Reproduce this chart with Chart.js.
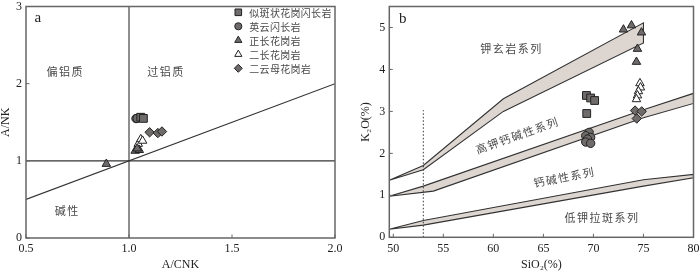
<!DOCTYPE html>
<html>
<head>
<meta charset="utf-8">
<script src="https://cdn.jsdelivr.net/npm/chart.js@4/dist/chart.umd.min.js"></script>
<style>
  body { margin: 0; background: #fff; }
  #wrap { position: relative; width: 700px; height: 271px; }
  canvas { position: absolute; top: 0; }
  #chartA { left: 0; }
  #chartB { left: 340px; }
</style>
</head>
<body>
<div id="wrap">
  <canvas id="chartA" width="350" height="271"></canvas>
  <canvas id="chartB" width="360" height="271"></canvas>
</div>
<script>
// ---- data: panel a (A/NK vs A/CNK) ----
let rockNames = ['似斑状花岗闪长岩', '英云闪长岩', '正长花岗岩', '二长花岗岩', '二云母花岗岩'];

let aSquares   = [{x: 1.057, y: 1.565}, {x: 1.07, y: 1.55}];
let aCircles   = [{x: 1.034, y: 1.548}, {x: 1.04, y: 1.55}];
let aFilledTri = [{x: 1.03, y: 1.13}, {x: 1.05, y: 1.14}, {x: 1.04, y: 1.16}, {x: 0.89, y: 0.96}];
let aOpenTri   = [{x: 1.045, y: 1.22}, {x: 1.057, y: 1.28}, {x: 1.066, y: 1.26}];
let aDiamonds  = [{x: 1.10, y: 1.37}, {x: 1.14, y: 1.36}, {x: 1.16, y: 1.38}];

let aDiagonal   = [{x: 0.5, y: 0.5}, {x: 2.0, y: 2.0}];
let aVertical   = [{x: 1.0, y: 0}, {x: 1.0, y: 3}];
let aHorizontal = [{x: 0.5, y: 1}, {x: 2.0, y: 1}];

let aXTicks = [0.5, 1.0, 1.5, 2.0];
let aYTicks = [0, 1, 2, 3];

// ---- data: panel b (K2O vs SiO2) ----
let bSquares   = [{x: 69.3, y: 3.38}, {x: 69.72, y: 3.32}, {x: 70.12, y: 3.26}, {x: 69.33, y: 2.95}];
let bCircles   = [{x: 69.57, y: 2.5}, {x: 69.23, y: 2.42}, {x: 69.72, y: 2.38}, {x: 69.4, y: 2.34}, {x: 69.23, y: 2.27}, {x: 69.72, y: 2.24}];
let bFilledTri = [{x: 73.0, y: 4.95}, {x: 73.8, y: 5.05}, {x: 74.8, y: 4.88}, {x: 74.4, y: 4.49}, {x: 74.3, y: 4.18}];
let bOpenTri   = [{x: 74.65, y: 3.67}, {x: 74.7, y: 3.57}, {x: 74.5, y: 3.48}, {x: 74.4, y: 3.38}, {x: 74.3, y: 3.29}];
let bDiamonds  = [{x: 74.16, y: 3.02}, {x: 74.82, y: 3.0}, {x: 74.33, y: 2.83}];

// boundary bands: upper edge then lower edge back to start
let bandShoshonite = [
  {x: 49.6, y: 1.36}, {x: 53, y: 1.71}, {x: 61, y: 3.30}, {x: 75, y: 5.11},
  {x: 75, y: 4.63}, {x: 61, y: 3.0}, {x: 53, y: 1.61}, {x: 49.6, y: 1.36}
];
let bandHighK = [
  {x: 49.6, y: 0.98}, {x: 53, y: 1.22}, {x: 75, y: 3.04}, {x: 80, y: 3.43},
  {x: 80, y: 3.19}, {x: 75, y: 2.85}, {x: 54, y: 1.10}, {x: 49.6, y: 0.98}
];
let bandCalcAlk = [
  {x: 49.6, y: 0.19}, {x: 53, y: 0.40}, {x: 75, y: 1.37}, {x: 80, y: 1.50},
  {x: 80, y: 1.42}, {x: 75, y: 1.22}, {x: 53, y: 0.29}, {x: 49.6, y: 0.19}
];
let bDotted = [{x: 53, y: 0}, {x: 53, y: 3.03}];

let bXTicks = [50, 55, 60, 65, 70, 75, 80];
let bYTicks = [0, 1, 2, 3, 4, 5];

// ---- styles ----
const markFill = '#6f6b6b';
const markEdge = '#222';
const tickFont = {family: 'Liberation Serif', size: 12};
const cjk = '"Noto Sans CJK SC"';

function rockSets(sq, ci, ft, ot, di) {
  const base = {type: 'scatter', borderColor: markEdge, borderWidth: 1, backgroundColor: markFill, order: 0, legend: true};
  return [
    {...base, label: rockNames[0], data: sq, pointStyle: 'rect', pointRadius: 5.5},
    {...base, label: rockNames[1], data: ci, pointStyle: 'circle', pointRadius: 4.2},
    {...base, label: rockNames[2], data: ft, pointStyle: 'triangle', pointRadius: 4.9},
    {...base, label: rockNames[3], data: ot, pointStyle: 'triangle', pointRadius: 4.9, backgroundColor: '#fff'},
    {...base, label: rockNames[4], data: di, pointStyle: 'rectRot', pointRadius: 4.7}
  ];
}

function lineSet(data, extra) {
  return Object.assign({type: 'line', data: data, borderColor: '#333', borderWidth: 1.1,
    pointRadius: 0, fill: false, tension: 0, order: 5}, extra || {});
}

function scaleOpts(min, max, tickList, title, fit) {
  return {
    type: 'linear', min: min, max: max,
    afterBuildTicks: s => { s.ticks = tickList.map(v => ({value: v})); },
    ticks: {font: tickFont, color: '#222', padding: 4, maxRotation: 0, autoSkip: false,
      callback: fit.fmt},
    grid: {display: false, drawTicks: false},
    border: {display: false},
    title: {display: true, text: title, color: '#222', font: {family: 'Liberation Serif', size: 12}, padding: fit.titlePad},
    afterFit: s => {
      if (s.isHorizontal()) { s.height = fit.size; s.paddingLeft = 0; s.paddingRight = 0; }
      else { s.width = fit.size; s.paddingTop = 0; s.paddingBottom = 0; }
    }
  };
}

// frame + inward ticks + text labels
const framePlugin = {
  id: 'frame',
  afterDraw(chart, args, opts) {
    const ctx = chart.ctx, a = chart.chartArea;
    const sx = chart.scales.x, sy = chart.scales.y;
    ctx.save();
    ctx.strokeStyle = '#666';
    ctx.lineWidth = 1.5;
    ctx.strokeRect(a.left, a.top, a.right - a.left, a.bottom - a.top);
    ctx.lineWidth = 1;
    ctx.beginPath();
    sx.ticks.forEach(t => {
      const px = sx.getPixelForValue(t.value);
      ctx.moveTo(px, a.bottom); ctx.lineTo(px, a.bottom - 3.5);
    });
    sy.ticks.forEach(t => {
      const py = sy.getPixelForValue(t.value);
      ctx.moveTo(a.left, py); ctx.lineTo(a.left + 3.5, py);
    });
    ctx.stroke();
    (opts.labels || []).forEach(l => {
      ctx.save();
      ctx.translate(sx.getPixelForValue(l.x), sy.getPixelForValue(l.y));
      ctx.rotate((l.angle || 0) * Math.PI / 180);
      ctx.font = l.font;
      ctx.fillStyle = l.color || '#4a4a4a';
      ctx.letterSpacing = l.spacing || '0px';
      ctx.textAlign = 'center';
      ctx.textBaseline = 'middle';
      ctx.fillText(l.text, 0, 0);
      ctx.restore();
    });
    ctx.restore();
  }
};

// legend drawn inside panel a
const legendPlugin = {
  id: 'rockLegend',
  afterDraw(chart, args, opts) {
    if (!opts.show) return;
    const ctx = chart.ctx;
    const sets = chart.data.datasets.filter(d => d.legend);
    ctx.save();
    sets.forEach((d, i) => {
      const y = opts.y + i * opts.step;
      ctx.fillStyle = d.backgroundColor;
      ctx.strokeStyle = d.borderColor;
      ctx.lineWidth = 1;
      Chart.helpers.drawPoint(ctx, {pointStyle: d.pointStyle, radius: d.pointRadius * 0.85, borderWidth: 1, rotation: 0}, opts.x, y);
      ctx.fillStyle = '#4a4a4a';
      ctx.font = '10px ' + cjk;
      ctx.letterSpacing = '0.3px';
      ctx.textAlign = 'left';
      ctx.textBaseline = 'middle';
      ctx.fillText(d.label, opts.x + 11, y + 0.5);
    });
    ctx.restore();
  }
};

Chart.register(framePlugin, legendPlugin);

new Chart(document.getElementById('chartA'), {
  type: 'scatter',
  data: {
    datasets: [
      ...rockSets(aSquares, aCircles, aFilledTri, aOpenTri, aDiamonds),
      lineSet(aDiagonal), lineSet(aVertical), lineSet(aHorizontal)
    ]
  },
  options: {
    responsive: false, animation: false,
    layout: {padding: {top: 1, right: 15, left: 0, bottom: 0}},
    scales: {
      x: scaleOpts(0.5, 2.0, aXTicks, 'A/CNK', {size: 33, fmt: v => v.toFixed(1), titlePad: {top: 0, bottom: -1}}),
      y: scaleOpts(0, 3, aYTicks, 'A/NK', {size: 26, fmt: v => v, titlePad: {top: -1, bottom: 0}})
    },
    plugins: {
      legend: {display: false}, tooltip: {enabled: false},
      frame: {labels: [
        {text: 'a', x: 0.558, y: 2.85, font: '15px "Liberation Serif"', color: '#222'},
        {text: '偏铝质', x: 0.69, y: 2.16, font: '11px ' + cjk, spacing: '1.5px'},
        {text: '过铝质', x: 1.18, y: 2.16, font: '11px ' + cjk, spacing: '1.5px'},
        {text: '碱性', x: 0.70, y: 0.35, font: '11px ' + cjk, spacing: '1.5px'}
      ]},
      rockLegend: {show: true, x: 238.3, y: 12.3, step: 14}
    }
  }
});

new Chart(document.getElementById('chartB'), {
  type: 'scatter',
  data: {
    datasets: [
      ...rockSets(bSquares, bCircles, bFilledTri, bOpenTri, bDiamonds),
      lineSet(bandShoshonite, {fill: 'shape', backgroundColor: '#ddd5d0', order: 8}),
      lineSet(bandHighK, {fill: 'shape', backgroundColor: '#ddd5d0', order: 8}),
      lineSet(bandCalcAlk, {fill: 'shape', backgroundColor: '#ddd5d0', order: 8}),
      lineSet(bDotted, {borderDash: [1.5, 2], borderWidth: 1, order: 6})
    ]
  },
  options: {
    responsive: false, animation: false,
    layout: {padding: {top: 1.6, right: 2.5, left: 0, bottom: 0}},
    scales: {
      x: scaleOpts(49.6, 80, bXTicks, 'SiO₂(%)', {size: 33.7, fmt: v => v, titlePad: {top: 0, bottom: -1}}),
      y: scaleOpts(0, 5.5, bYTicks, 'K₂O(%)', {size: 49.3, fmt: v => v, titlePad: {top: 19, bottom: 0}})
    },
    plugins: {
      legend: {display: false}, tooltip: {enabled: false},
      frame: {labels: [
        {text: 'b', x: 50.95, y: 5.19, font: '15px "Liberation Serif"', color: '#222'},
        {text: '钾玄岩系列', x: 61.8, y: 4.49, font: '11px ' + cjk, spacing: '1.5px'},
        {text: '高钾钙碱性系列', x: 62.4, y: 2.43, angle: -19.5, font: '11px ' + cjk, spacing: '1.5px'},
        {text: '钙碱性系列', x: 67.1, y: 1.43, angle: -11, font: '11px ' + cjk, spacing: '1.5px'},
        {text: '低钾拉斑系列', x: 70.85, y: 0.46, font: '11px ' + cjk, spacing: '1.5px'}
      ]},
      rockLegend: {show: false}
    }
  }
});
</script>
</body>
</html>
